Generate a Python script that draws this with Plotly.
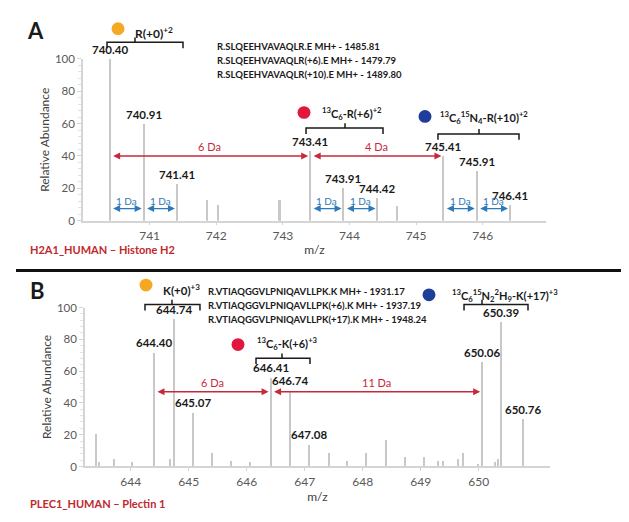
import plotly.graph_objects as go

# ---- panel A : H2A1_HUMAN, R(+0)/R(+6)/R(+10) clusters, charge +2
a_mz_labeled = [740.40, 740.91, 741.41, 743.41, 743.91, 744.42, 745.41, 745.91, 746.41]
a_int_labeled = [100, 60, 23, 43, 20, 14, 40, 31, 10]
a_mz_minor = [741.86, 742.02, 742.95, 744.72]
a_int_minor = [13, 10, 13, 9]
a_ticks = [741, 742, 743, 744, 745, 746]
a_peptides = [
    "R.SLQEEHVAVAQLR.E MH+ - 1485.81",
    "R.SLQEEHVAVAQLR(+6).E MH+ - 1479.79",
    "R.SLQEEHVAVAQLR(+10).E MH+ - 1489.80",
]
a_big_gaps = [(740.40, 743.41, "6 Da"), (743.41, 745.41, "4 Da")]
a_small_gaps = [(740.40, 740.91), (740.91, 741.41), (743.41, 743.91),
                (743.91, 744.42), (745.41, 745.91), (745.91, 746.41)]

# ---- panel B : PLEC1_HUMAN, K(+0)/K(+6)/K(+17) clusters, charge +3
b_mz_labeled = [644.40, 644.74, 645.07, 646.41, 646.74, 647.08, 650.06, 650.39, 650.76]
b_int_labeled = [72, 93, 34, 56, 48, 14, 66, 91, 30]
b_mz_minor = [643.40, 643.45, 643.71, 644.02, 644.68, 645.40, 645.73, 646.06,
              647.41, 647.73, 648.06, 648.40, 648.73, 649.06, 649.30, 649.39,
              649.65, 649.73, 649.99, 650.28, 650.34]
b_int_minor = [21, 3, 5, 3, 5, 9, 4, 3, 9, 4, 9, 17, 6, 6, 4, 4, 5, 9, 2, 3, 5]
b_ticks = [644, 645, 646, 647, 648, 649, 650]
b_peptides = [
    "R.VTIAQGGVLPNIQAVLLPK.K MH+ - 1931.17",
    "R.VTIAQGGVLPNIQAVLLPK(+6).K MH+ - 1937.19",
    "R.VTIAQGGVLPNIQAVLLPK(+17).K MH+ - 1948.24",
]
b_big_gaps = [(644.40, 646.41, "6 Da"), (646.41, 650.06, "11 Da")]

W, H = 629, 522
FONT = "Lato"
PEAK = "#c8c8c8"
TXT = "#1a1a1a"
RED = "#c8283c"
BLUE = "#2e7ab8"
ORANGE, CRIMSON, NAVY = "#f7a823", "#e3173e", "#1f3e9c"


def px(x, y):
    return x / W, 1 - y / H


fig = go.Figure()
for mz, inten, xa, ya, w in [
    (a_mz_labeled + a_mz_minor, a_int_labeled + a_int_minor, "x", "y", 0.03),
    (b_mz_labeled + b_mz_minor, b_int_labeled + b_int_minor, "x2", "y2", 0.035),
]:
    fig.add_trace(go.Bar(x=mz, y=inten, width=w, marker_color=PEAK,
                         marker_line_width=0, xaxis=xa, yaxis=ya,
                         showlegend=False, hoverinfo="x+y"))

ann = []
shapes = []

# peak labels
for mz, inten, xa, ya in [(a_mz_labeled, a_int_labeled, "x", "y"),
                          (b_mz_labeled, b_int_labeled, "x2", "y2")]:
    for m, v in zip(mz, inten):
        ann.append(dict(x=m, y=v, xref=xa, yref=ya, text=f"<b>{m:.2f}</b>",
                        showarrow=False, yanchor="bottom", yshift=1,
                        font=dict(size=11.5, color=TXT)))


def gap_arrow(x0, x1, y, xa, ya, color, width):
    ann.append(dict(x=x1, y=y, ax=x0, ay=y, xref=xa, yref=ya, axref=xa, ayref=ya,
                    text="", showarrow=True, arrowside="end+start", arrowhead=2,
                    arrowsize=1, arrowwidth=width, arrowcolor=color,
                    standoff=2, startstandoff=2))


for x0, x1, lab in a_big_gaps:
    gap_arrow(x0, x1, 40, "x", "y", RED, 1.4)
    ann.append(dict(x=(x0 + x1) / 2, y=40, xref="x", yref="y", text=lab,
                    showarrow=False, yanchor="bottom", yshift=1,
                    font=dict(size=11, color=RED)))
for x0, x1 in a_small_gaps:
    gap_arrow(x0, x1, 7.5, "x", "y", BLUE, 1.4)
    ann.append(dict(x=(x0 + x1) / 2, y=7.5, xref="x", yref="y", text="1 Da",
                    showarrow=False, yanchor="bottom", yshift=0,
                    font=dict(size=10, color=BLUE)))
for x0, x1, lab in b_big_gaps:
    gap_arrow(x0, x1, 47, "x2", "y2", RED, 1.4)
    ann.append(dict(x=(x0 + x1) / 2, y=47, xref="x2", yref="y2", text=lab,
                    showarrow=False, yanchor="bottom", yshift=1,
                    font=dict(size=11, color=RED)))


def text_px(x, y, s, size, color=TXT, anchor="left"):
    xp, yp = px(x, y)
    ann.append(dict(x=xp, y=yp, xref="paper", yref="paper", text=s, showarrow=False,
                    xanchor=anchor, yanchor="middle", font=dict(size=size, color=color)))


def dot(cx, cy, color, r=6.5):
    x0, y0 = px(cx - r, cy + r)
    x1, y1 = px(cx + r, cy - r)
    shapes.append(dict(type="circle", xref="paper", yref="paper", x0=x0, y0=y0,
                       x1=x1, y1=y1, fillcolor=color, line=dict(width=0)))


def bracket(xl, xr, y, xm, drop=6, rise=5):
    pts = [px(xl, y + drop), px(xl, y), px(xr, y), px(xr, y + drop)]
    path = "M " + " L ".join(f"{a:.4f},{b:.4f}" for a, b in pts)
    m0, m1 = px(xm, y), px(xm, y - rise)
    path += f" M {m0[0]:.4f},{m0[1]:.4f} L {m1[0]:.4f},{m1[1]:.4f}"
    shapes.append(dict(type="path", xref="paper", yref="paper", path=path,
                       line=dict(color=TXT, width=1.5)))


# panel A decorations
text_px(27, 16, "<b>A</b>", 22, anchor="center")
dot(110, 14, ORANGE)
text_px(125, 18, "<b>R(+0)<sup>+2</sup></b>", 12)
bracket(99, 175, 28, 127)
for i, s in enumerate(a_peptides):
    text_px(207, 32 + 14.5 * i, f"<b>{s}</b>", 9.5)
dot(296, 100, CRIMSON)
text_px(312, 101, "<b><sup>13</sup>C<sub>6</sub>-R(+6)<sup>+2</sup></b>", 11)
bracket(298, 375, 116, 337)
dot(417, 104, NAVY)
text_px(430, 105, "<b><sup>13</sup>C<sub>6</sub><sup>15</sup>N<sub>4</sub>-R(+10)<sup>+2</sup></b>", 11)
bracket(430, 511, 122, 471)
text_px(20, 240, "<b>H2A1_HUMAN – Histone H2</b>", 11, color="#c0282d")

# separator
y0 = px(0, 262)[1]
shapes.append(dict(type="line", xref="paper", yref="paper", x0=8 / W, x1=624 / W,
                   y0=y0, y1=y0, line=dict(color="#111111", width=3)))

# panel B decorations
text_px(29, 283, "<b>B</b>", 22, anchor="center")
dot(138, 277, ORANGE)
text_px(153, 281, "<b>K(+0)<sup>+3</sup></b>", 11.5)
bracket(137, 192, 297, 164)
for i, s in enumerate(b_peptides):
    text_px(198, 284 + 14 * i, f"<b>{s}</b>", 9.5)
dot(421, 287, NAVY)
text_px(442, 288, "<b><sup>13</sup>C<sub>6</sub><sup>15</sup>N<sub>2</sub><sup>2</sup>H<sub>9</sub>-K(+17)<sup>+3</sup></b>", 11)
bracket(456, 520, 297, 474)
dot(230, 338, CRIMSON)
text_px(247, 337, "<b><sup>13</sup>C<sub>6</sub>-K(+6)<sup>+3</sup></b>", 11)
bracket(248, 302, 352, 274)
text_px(20, 501, "<b>PLEC1_HUMAN – Plectin 1</b>", 11, color="#c0282d")

xax = dict(showline=True, linecolor="#d4d4d4", linewidth=1.5, ticks="outside",
           ticklen=3, tickcolor="#d4d4d4", showgrid=False, zeroline=False,
           tickfont=dict(size=12, color="#595959"),
           title=dict(text="m/z", font=dict(size=12, color="#404040"), standoff=4))
yax = dict(showline=True, linecolor="#d4d4d4", linewidth=1.5, ticks="outside",
           ticklen=4, tickcolor="#d4d4d4", showgrid=False, zeroline=False,
           range=[0, 100], tickvals=[0, 20, 40, 60, 80, 100],
           minor=dict(dtick=4, ticks="outside", ticklen=3, tickcolor="#e2e2e2"),
           tickfont=dict(size=11.5, color="#595959"),
           title=dict(text="Relative Abundance", font=dict(size=12, color="#404040"),
                      standoff=3))

fig.update_layout(
    width=W, height=H,
    margin=dict(l=0, r=0, t=0, b=0),
    paper_bgcolor="white", plot_bgcolor="white",
    font=dict(family=FONT, color=TXT),
    bargap=0,
    xaxis=dict(xax, domain=[75 / W, 538 / W], range=[740.0, 746.95],
               tickvals=a_ticks, anchor="y"),
    yaxis=dict(yax, domain=[1 - 211 / H, 1 - 45 / H], anchor="x"),
    xaxis2=dict(xax, domain=[77 / W, 542 / W], range=[643.21, 651.23],
                tickvals=b_ticks, anchor="y2"),
    yaxis2=dict(yax, domain=[1 - 463 / H, 1 - 300 / H], anchor="x2"),
    annotations=ann,
    shapes=shapes,
)

fig.write_html("out.html")
